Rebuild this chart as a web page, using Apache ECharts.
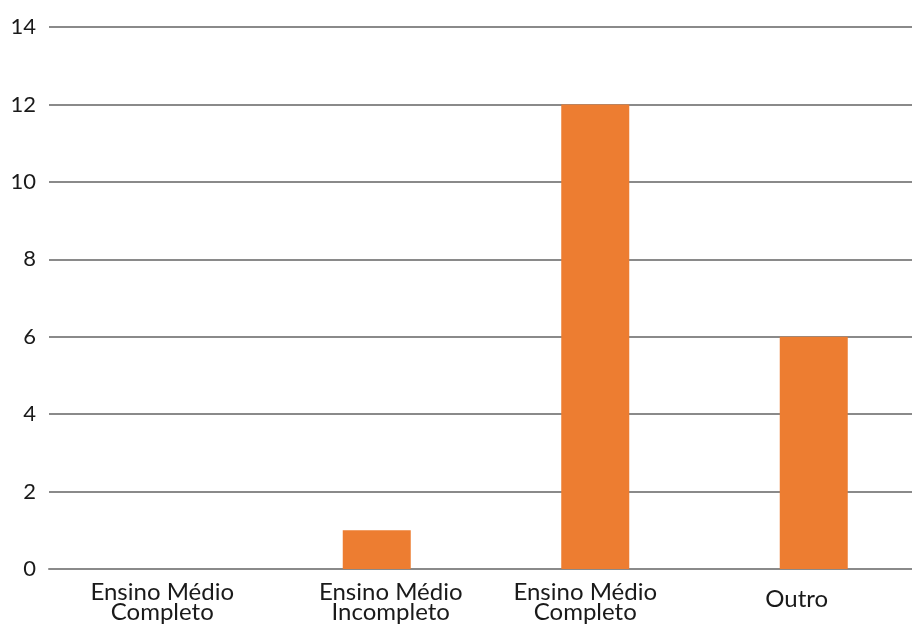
<!DOCTYPE html>
<html><head><meta charset="utf-8">
<script src="https://cdn.jsdelivr.net/npm/echarts@6/dist/echarts.min.js"></script>
<style>html,body{margin:0;padding:0;background:#fff;overflow:hidden}#c{width:930px;height:628px}</style>
</head><body><div id="c"></div>
<script>
const categories = ['Ensino Médio\nCompleto', 'Ensino Médio\nIncompleto', 'Ensino Médio\nCompleto', 'Outro'];
const values = [0, 1, 12, 6];
const labelShiftX = [8, 28, -20, -34];
const labelShiftY = [0, 0, 0, 7];
const chart = echarts.init(document.getElementById('c'));
chart.setOption({
  animation: false,
  grid: {left: 49, right: 7, top: 27, bottom: 59},
  xAxis: {
    type: 'category',
    data: categories.map((c, i) => ({
      value: c,
      textStyle: {padding: [labelShiftY[i], Math.max(0, -labelShiftX[i]), 0, Math.max(0, labelShiftX[i])]}
    })),
    axisLine: {show: true, lineStyle: {color: '#8a8a8a', width: 2}},
    axisTick: {show: false},
    axisLabel: {fontFamily: 'Lato', fontSize: 24, color: '#1a1a1a', lineHeight: 20, margin: 13, interval: 0}
  },
  yAxis: {
    type: 'value', min: 0, max: 14, interval: 2,
    axisLine: {show: false}, axisTick: {show: false},
    splitLine: {lineStyle: {color: '#8a8a8a', width: 2}},
    axisLabel: {fontFamily: 'Lato', fontSize: 22, color: '#1a1a1a', margin: 13}
  },
  series: [{
    type: 'bar', data: values, barWidth: 68,
    itemStyle: {color: '#ed7d31'}
  }]
});
</script></body></html>
